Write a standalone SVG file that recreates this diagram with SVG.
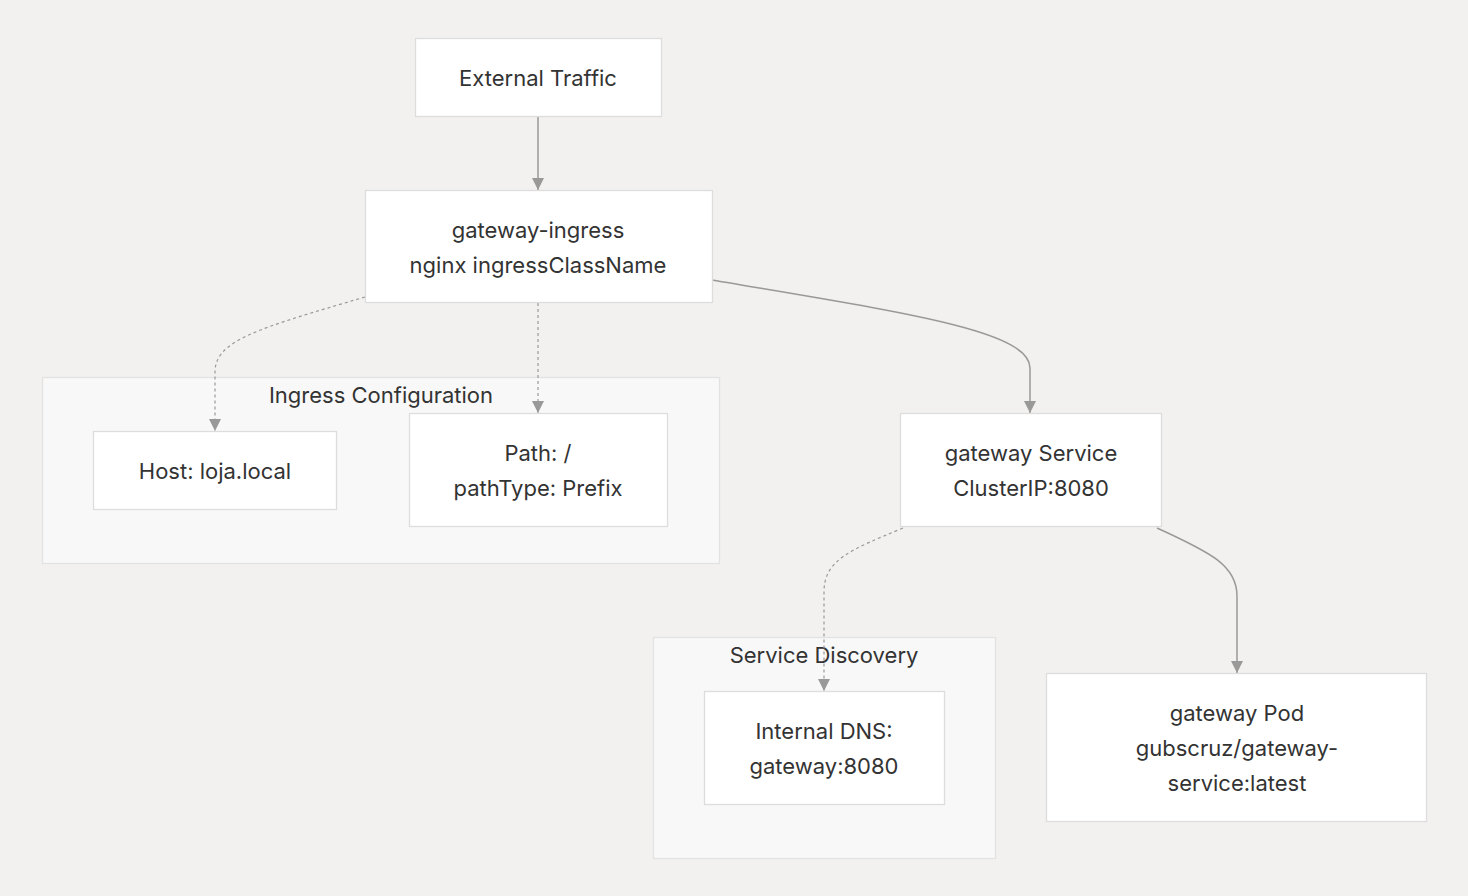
<svg xmlns="http://www.w3.org/2000/svg" width="1468" height="896" viewBox="0 0 1468 896">
<defs>
<style>
.node rect{fill:#ffffff;stroke:#dddddd;stroke-width:1.3}
.cluster rect{fill:#f8f8f8;stroke:#e2e2e2;stroke-width:1.3}
text{font-family:Inter,"Noto Sans","Liberation Sans",sans-serif;font-size:22px;fill:#333333;text-anchor:middle}
.edge{fill:none;stroke:#999999;stroke-width:1.5}
.dash{stroke-width:1.2;stroke-dasharray:3 3}
</style>
<marker id="arr" viewBox="0 0 10 10" refX="10" refY="5" markerWidth="12" markerHeight="12" markerUnits="userSpaceOnUse" orient="auto">
<path d="M0,0 L10,5 L0,10 z" fill="#999999"/>
</marker>
</defs>
<rect width="1468" height="896" fill="#f2f1ef"/>
<g id="cluster-ingress-config" class="cluster">
<rect x="42.5" y="377.5" width="677" height="186"/>
<text x="381" y="403">Ingress Configuration</text>
</g>
<g id="cluster-service-discovery" class="cluster">
<rect x="653.5" y="637.5" width="342" height="221"/>
<text x="824" y="663">Service Discovery</text>
</g>
<g id="connectors">
<path class="edge" d="M538,116 L538,190" marker-end="url(#arr)"/>
<path class="edge dash" d="M365,297 C260,328 215,340 215,372 L215,431" marker-end="url(#arr)"/>
<path class="edge dash" d="M538,303 L538,413" marker-end="url(#arr)"/>
<path class="edge" d="M712,280 C900,312 1030,330 1030,368 L1030,413" marker-end="url(#arr)"/>
<path class="edge dash" d="M903,528 C850,550 824,560 824,592 L824,691" marker-end="url(#arr)"/>
<path class="edge" d="M1157,528 C1212,553 1237,566 1237,596 L1237,673" marker-end="url(#arr)"/>
</g>
<g id="node-external-traffic" class="node">
<rect x="415.5" y="38.5" width="246" height="78"/>
<text x="538" y="86">External Traffic</text>
</g>
<g id="node-gateway-ingress" class="node">
<rect x="365.5" y="190.5" width="347" height="112"/>
<text x="538" y="238">gateway-ingress</text>
<text x="538" y="273">nginx ingressClassName</text>
</g>
<g id="node-host" class="node">
<rect x="93.5" y="431.5" width="243" height="78"/>
<text x="215" y="479">Host: loja.local</text>
</g>
<g id="node-path" class="node">
<rect x="409.5" y="413.5" width="258" height="113"/>
<text x="538" y="461">Path: /</text>
<text x="538" y="496">pathType: Prefix</text>
</g>
<g id="node-gateway-service" class="node">
<rect x="900.5" y="413.5" width="261" height="113"/>
<text x="1031" y="461">gateway Service</text>
<text x="1031" y="496">ClusterIP:8080</text>
</g>
<g id="node-internal-dns" class="node">
<rect x="704.5" y="691.5" width="240" height="113"/>
<text x="824" y="739">Internal DNS:</text>
<text x="824" y="774">gateway:8080</text>
</g>
<g id="node-gateway-pod" class="node">
<rect x="1046.5" y="673.5" width="380" height="148"/>
<text x="1237" y="721">gateway Pod</text>
<text x="1237" y="756">gubscruz/gateway-</text>
<text x="1237" y="791">service:latest</text>
</g>
</svg>
